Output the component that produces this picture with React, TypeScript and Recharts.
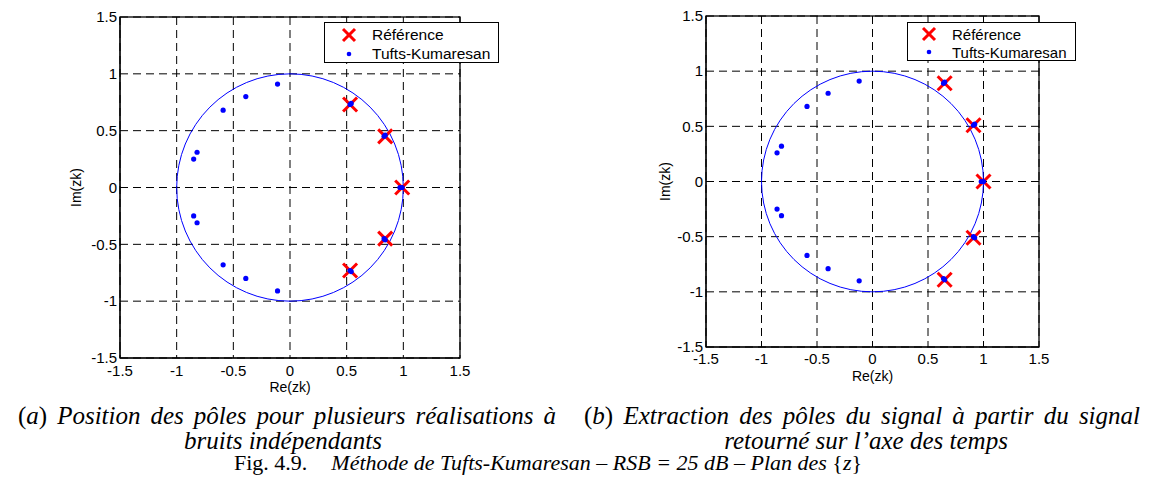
import React from 'react';
import {
  ScatterChart,
  Scatter,
  XAxis,
  YAxis,
  CartesianGrid,
  ReferenceArea,
  Legend,
} from 'recharts';

// ---------- data ----------
const axisTicks = [-1.5, -1, -0.5, 0, 0.5, 1, 1.5];
const axisDomain = [-1.5, 1.5];
const unitCircleBounds = [-1, 1];
const seriesNames = ['Référence', 'Tufts-Kumaresan'];
const xTitle = 'Re(zk)';
const yTitle = 'Im(zk)';

// (a) several independent noise realisations
const leftRefRe = [0.53, 0.84, 0.99, 0.84, 0.53];
const leftRefIm = [0.73, 0.45, 0.0, -0.45, -0.73];
const leftTkRe = [-0.85, -0.82, -0.59, -0.39, -0.11, 0.53, 0.54, 0.83, 0.84, 0.97, 0.99,
  -0.85, -0.82, -0.59, -0.39, -0.11, 0.53, 0.54, 0.83, 0.84];
const leftTkIm = [0.25, 0.31, 0.68, 0.8, 0.91, 0.73, 0.74, 0.45, 0.46, 0.0, 0.0,
  -0.25, -0.31, -0.68, -0.8, -0.91, -0.73, -0.74, -0.45, -0.46];

// (b) time-reversed signal
const rightRefRe = [0.65, 0.91, 1.0, 0.91, 0.65];
const rightRefIm = [0.89, 0.51, 0.0, -0.51, -0.89];
const rightTkRe = [-0.86, -0.82, -0.59, -0.4, -0.12, 0.64, 0.65, 0.91, 0.92, 0.98, 1.0,
  -0.86, -0.82, -0.59, -0.4, -0.12, 0.64, 0.65, 0.91, 0.92];
const rightTkIm = [0.26, 0.32, 0.68, 0.8, 0.91, 0.89, 0.9, 0.51, 0.52, 0.0, 0.0,
  -0.25, -0.31, -0.67, -0.79, -0.9, -0.88, -0.89, -0.5, -0.51];

const toPoints = (re: number[], im: number[]) => re.map((x, i) => ({ x, y: im[i] }));

// ---------- styles ----------
const SANS = '"Liberation Sans", Arial, Helvetica, sans-serif';
const SERIF = '"Liberation Serif", "Times New Roman", Times, serif';
const RED = '#ff0000';
const BLUE = '#0000ff';

const CrossShape = (props: any) => {
  const { cx, cy } = props;
  const h = 7;
  return (
    <g>
      <line x1={cx - h} y1={cy - h} x2={cx + h} y2={cy + h} stroke={RED} strokeWidth={3} />
      <line x1={cx - h} y1={cy + h} x2={cx + h} y2={cy - h} stroke={RED} strokeWidth={3} />
    </g>
  );
};

const DotShape = (props: any) => <circle cx={props.cx} cy={props.cy} r={2.6} fill={BLUE} />;

const UnitCircle = (props: any) => {
  const { x, y, width, height } = props;
  return (
    <ellipse
      cx={x + width / 2}
      cy={y + height / 2}
      rx={Math.abs(width) / 2}
      ry={Math.abs(height) / 2}
      fill="none"
      stroke={BLUE}
      strokeWidth={1}
    />
  );
};

const FrameRect = (props: any) => {
  const { x, y, width, height } = props;
  return <rect x={x} y={y} width={width} height={height} fill="none" stroke="#000" strokeWidth={1.3} />;
};

const makeXTitle = (dy: number) => (props: any) => {
  const vb = props.viewBox || {};
  return (
    <text
      x={vb.x + vb.width / 2}
      y={vb.y + dy}
      textAnchor="middle"
      dominantBaseline="central"
      fontFamily={SANS}
      fontSize={14}
      fill="#000"
    >
      {xTitle}
    </text>
  );
};

const makeYTitle = (dx: number) => (props: any) => {
  const vb = props.viewBox || {};
  const cx = vb.x + vb.width - dx;
  const cy = vb.y + vb.height / 2;
  return (
    <text
      x={cx}
      y={cy}
      transform={`rotate(-90 ${cx} ${cy})`}
      textAnchor="middle"
      dominantBaseline="central"
      fontFamily={SANS}
      fontSize={14}
      fill="#000"
    >
      {yTitle}
    </text>
  );
};

const makeLegend = (fontSize: number, markX: number, textX: number, row1: number, row2: number) => () => (
  <div
    style={{
      position: 'relative',
      width: '100%',
      height: '100%',
      boxSizing: 'border-box',
      border: '1.3px solid #000',
      background: '#fff',
      fontFamily: SANS,
      fontSize,
      color: '#000',
    }}
  >
    <svg style={{ position: 'absolute', left: 0, top: 0 }} width="100%" height="100%">
      <line x1={markX - 6} y1={row1 - 6} x2={markX + 6} y2={row1 + 6} stroke={RED} strokeWidth={3} />
      <line x1={markX - 6} y1={row1 + 6} x2={markX + 6} y2={row1 - 6} stroke={RED} strokeWidth={3} />
      <circle cx={markX} cy={row2} r={2.3} fill={BLUE} />
    </svg>
    <div style={{ position: 'absolute', left: textX, top: row1, transform: 'translateY(-50%)', whiteSpace: 'nowrap', lineHeight: 1 }}>
      {seriesNames[0]}
    </div>
    <div style={{ position: 'absolute', left: textX, top: row2, transform: 'translateY(-50%)', whiteSpace: 'nowrap', lineHeight: 1 }}>
      {seriesNames[1]}
    </div>
  </div>
);

type PanelProps = {
  left: number;
  width: number;
  height: number;
  top: number;
  refPts: { x: number; y: number }[];
  tkPts: { x: number; y: number }[];
  xTickMargin: number;
  xTitleDy: number;
  yTitleDx: number;
  legendBox: { left: number; top: number; width: number; height: number };
  legendFont: number;
  legendRows: [number, number, number, number];
};

const Panel = (p: PanelProps) => {
  const tickStyle = { fontFamily: SANS, fontSize: 15, fill: '#000' };
  return (
    <div style={{ position: 'absolute', left: p.left, top: 0 }}>
      <ScatterChart
        width={p.width}
        height={p.height}
        margin={{ top: p.top, right: 40, bottom: 12, left: 80 }}
      >
        <CartesianGrid stroke="#000" strokeWidth={1} strokeDasharray="8 5" />
        <XAxis
          type="number"
          dataKey="x"
          domain={axisDomain}
          ticks={axisTicks}
          interval={0}
          allowDataOverflow
          height={30}
          tickLine={false}
          tickSize={0}
          tickMargin={p.xTickMargin}
          axisLine={{ stroke: '#000' }}
          tick={tickStyle}
          label={{ content: makeXTitle(p.xTitleDy) }}
        />
        <YAxis
          type="number"
          dataKey="y"
          domain={axisDomain}
          ticks={axisTicks}
          interval={0}
          allowDataOverflow
          width={40}
          tickLine={false}
          tickSize={0}
          tickMargin={3}
          axisLine={{ stroke: '#000' }}
          tick={tickStyle}
          label={{ content: makeYTitle(p.yTitleDx) }}
        />
        <ReferenceArea
          x1={axisDomain[0]}
          x2={axisDomain[1]}
          y1={axisDomain[0]}
          y2={axisDomain[1]}
          shape={FrameRect}
          ifOverflow="visible"
        />
        <ReferenceArea
          x1={unitCircleBounds[0]}
          x2={unitCircleBounds[1]}
          y1={unitCircleBounds[0]}
          y2={unitCircleBounds[1]}
          shape={UnitCircle}
          ifOverflow="visible"
        />
        <Scatter name={seriesNames[0]} data={p.refPts} shape={CrossShape} isAnimationActive={false} />
        <Scatter name={seriesNames[1]} data={p.tkPts} shape={DotShape} isAnimationActive={false} />
        <Legend
          layout="horizontal"
          verticalAlign="middle"
          align="center"
          wrapperStyle={{
            position: 'absolute',
            left: p.legendBox.left,
            top: p.legendBox.top,
            width: p.legendBox.width,
            height: p.legendBox.height,
          }}
          content={makeLegend(p.legendFont, p.legendRows[0], p.legendRows[1], p.legendRows[2], p.legendRows[3])}
        />
      </ScatterChart>
    </div>
  );
}

const upright: React.CSSProperties = { fontStyle: 'normal' };

export default function App() {
  const captionBase: React.CSSProperties = {
    position: 'absolute',
    fontFamily: SERIF,
    fontStyle: 'italic',
    fontSize: 25,
    lineHeight: '24px',
    whiteSpace: 'nowrap',
    color: '#000',
  };
  const justified: React.CSSProperties = {
    whiteSpace: 'normal',
    textAlign: 'justify',
    textAlignLast: 'justify',
  };
  return (
    <div
      style={{
        position: 'absolute',
        left: 0,
        top: 0,
        width: 1151,
        height: 501,
        background: '#fff',
        overflow: 'hidden',
      }}
    >
      <Panel
        left={0}
        width={500}
        height={400}
        top={17}
        refPts={toPoints(leftRefRe, leftRefIm)}
        tkPts={toPoints(leftTkRe, leftTkIm)}
        xTickMargin={7}
        xTitleDy={29}
        yTitleDx={44}
        legendBox={{ left: 324, top: 22, width: 175, height: 41 }}
        legendFont={15.5}
        legendRows={[24, 47, 12, 31]}
      />
      <Panel
        left={586}
        width={493}
        height={389}
        top={16}
        refPts={toPoints(rightRefRe, rightRefIm)}
        tkPts={toPoints(rightTkRe, rightTkIm)}
        xTickMargin={6}
        xTitleDy={29}
        yTitleDx={41}
        legendBox={{ left: 321, top: 22, width: 169, height: 39 }}
        legendFont={15}
        legendRows={[21, 44, 11, 29]}
      />

      <div style={{ ...captionBase, ...justified, left: 18, top: 404, width: 538 }}>
        <span style={upright}>(</span>a<span style={upright}>)</span> Position des pôles pour plusieurs réalisations à
      </div>
      <div style={{ ...captionBase, left: 283, top: 429, transform: 'translateX(-50%)' }}>
        bruits indépendants
      </div>
      <div style={{ ...captionBase, ...justified, left: 584, top: 404, width: 556 }}>
        <span style={upright}>(</span>b<span style={upright}>)</span> Extraction des pôles du signal à partir du signal
      </div>
      <div style={{ ...captionBase, left: 866, top: 429, transform: 'translateX(-50%)' }}>
        retourné sur l’axe des temps
      </div>
      <div style={{ ...captionBase, fontSize: 22, left: 548, top: 451, transform: 'translateX(-50%)' }}>
        <span style={upright}>Fig. 4.9.</span>
        <span style={{ display: 'inline-block', width: 24 }} />
        Méthode de Tufts-Kumaresan – RSB = 25 dB – Plan des <span style={upright}>{'{'}</span>z<span style={upright}>{'}'}</span>
      </div>
    </div>
  );
}
